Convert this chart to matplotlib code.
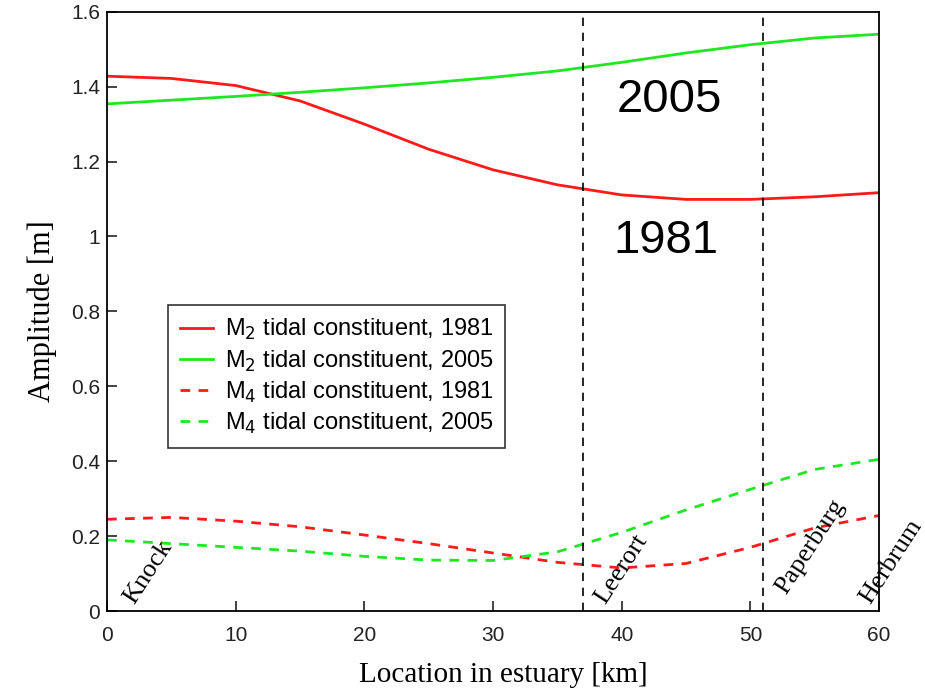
import matplotlib
matplotlib.use('Agg')
import matplotlib.pyplot as plt
import numpy as np

# distance along the estuary [km]
km = [0, 5, 10, 15, 20, 25, 30, 35, 40, 45, 50, 55, 60]

# amplitudes [m]
m2_1981 = [1.428, 1.422, 1.403, 1.362, 1.300, 1.233, 1.178, 1.138, 1.111, 1.099, 1.099, 1.106, 1.117]
m2_2005 = [1.354, 1.364, 1.374, 1.385, 1.397, 1.410, 1.425, 1.442, 1.465, 1.490, 1.512, 1.530, 1.540]
m4_1981 = [0.245, 0.250, 0.240, 0.225, 0.203, 0.180, 0.155, 0.130, 0.115, 0.127, 0.170, 0.222, 0.255]
m4_2005 = [0.190, 0.180, 0.170, 0.160, 0.146, 0.136, 0.135, 0.158, 0.210, 0.270, 0.325, 0.378, 0.405]

# station markers
stations = ['Knock', 'Leerort', 'Paperburg', 'Herbrum']
station_km = [1.0, 37.6, 51.7, 58.2]
station_y = [0.01, 0.01, 0.035, 0.01]
dashed_km = [37, 51]

sans = 'Liberation Sans'
serif = 'Liberation Serif'

fig = plt.figure(figsize=(9.25, 6.92), dpi=100)
ax = fig.add_axes([0.1157, 0.117, 0.8346, 0.866])

red = '#ff1a1a'
green = '#22e622'
ax.plot(km, m2_1981, color=red, lw=2, label='M$_2$ tidal constituent, 1981')
ax.plot(km, m2_2005, color=green, lw=2, label='M$_2$ tidal constituent, 2005')
ax.plot(km, m4_1981, color=red, lw=2, ls=(0, (3.5, 3)), label='M$_4$ tidal constituent, 1981')
ax.plot(km, m4_2005, color=green, lw=2, ls=(0, (3.5, 3)), label='M$_4$ tidal constituent, 2005')

for xv in dashed_km:
    ax.axvline(xv, color='black', lw=1.2, ls=(0, (5, 4)))

for name, xv, yv in zip(stations, station_km, station_y):
    ax.text(xv, yv, name, rotation=57, ha='left', va='bottom',
            family=serif, fontsize=19, clip_on=False)

ax.text(43.7, 1.333, '2005', ha='center', va='baseline', family=sans, fontsize=34)
ax.text(43.4, 0.956, '1981', ha='center', va='baseline', family=sans, fontsize=34)

ax.set_xlim(0, 60)
ax.set_ylim(0, 1.6)
ax.set_xticks(range(0, 61, 10))
ax.set_yticks([0, 0.2, 0.4, 0.6, 0.8, 1.0, 1.2, 1.4, 1.6])
ax.set_yticklabels(['0', '0.2', '0.4', '0.6', '0.8', '1', '1.2', '1.4', '1.6'])
ax.tick_params(direction='in', length=7, width=1.2, labelsize=15, colors='#222222')
ax.tick_params(axis='x', pad=11)
ax.tick_params(axis='y', pad=5)
for lab in ax.get_xticklabels() + ax.get_yticklabels():
    lab.set_family(sans)
for sp in ax.spines.values():
    sp.set_linewidth(1.3)

ax.set_xlabel('Location in estuary [km]', family=serif, fontsize=21)
ax.xaxis.set_label_coords(0.513, -0.085, transform=ax.transAxes)
ax.xaxis.label.set_va('top')
ax.set_ylabel('Amplitude [m]', family=serif, fontsize=22, labelpad=10)

leg = ax.legend(loc='upper left', bbox_to_anchor=(0.079, 0.51), prop={'family': sans, 'size': 17},
                frameon=True, fancybox=False, edgecolor='black', handlelength=1.4,
                handletextpad=0.5, borderpad=0.5, labelspacing=0.25, borderaxespad=0)
leg.get_frame().set_linewidth(1.2)

fig.savefig('out.png', dpi=100)
